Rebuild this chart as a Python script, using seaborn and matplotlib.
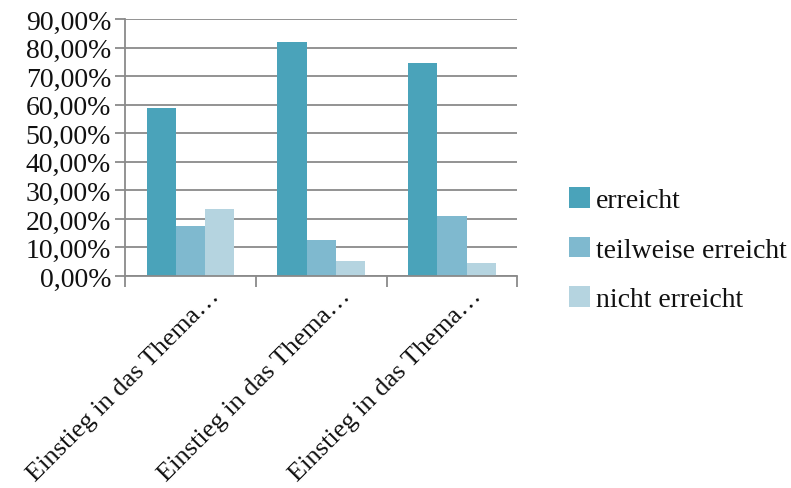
import numpy as np
import pandas as pd
import matplotlib
matplotlib.use("Agg")
import matplotlib.pyplot as plt
import matplotlib.transforms as mtransforms
import seaborn as sns
from matplotlib.ticker import FuncFormatter

categories = ["Einstieg in das Thema…", "Einstieg in das Thema… ", "Einstieg in das Thema…  "]
series = ["erreicht", "teilweise erreicht", "nicht erreicht"]
erreicht = [58.8, 81.8, 74.5]
teilweise = [17.6, 12.7, 21.0]
nicht = [23.3, 5.3, 4.5]
colors = ["#4aa3ba", "#7fb9cf", "#b5d4e0"]

df = pd.DataFrame({
    "kategorie": categories * 3,
    "serie": [s for s in series for _ in categories],
    "wert": erreicht + teilweise + nicht,
})

sns.set_style("white")
plt.rcParams["font.family"] = ["Liberation Serif", "DejaVu Serif"]
plt.rcParams["text.color"] = "#111111"

fig = plt.figure(figsize=(7.91, 4.89), dpi=100)
ax = fig.add_axes([0.158, 0.4335, 0.496, 0.5255])

sns.barplot(data=df, x="kategorie", y="wert", hue="serie", hue_order=series,
            palette=colors, width=0.67, saturation=1, ax=ax, legend=True,
            edgecolor="none")

ax.set_ylim(0, 90)
ax.set_xlim(-0.5, 2.5)
ax.set_yticks(np.arange(0, 91, 10))
ax.yaxis.set_major_formatter(FuncFormatter(lambda v, p: f"{v:.2f}%".replace(".", ",")))
ax.grid(axis="y", color="#8a8a8a", linewidth=1.3)
ax.set_axisbelow(True)
for s in ["top", "right"]:
    ax.spines[s].set_visible(False)
for s in ["left", "bottom"]:
    ax.spines[s].set_color("#8a8a8a")
    ax.spines[s].set_linewidth(1.3)

ax.tick_params(axis="y", left=True, length=7, width=1.3, color="#8a8a8a",
               labelsize=20, pad=3, labelcolor="#111111")
ax.set_xticks([0, 1, 2])
ax.set_xticklabels([c.strip() for c in categories], rotation=45, ha="right",
                   va="top", rotation_mode="anchor", fontsize=19, color="#111111")
ax.tick_params(axis="x", which="major", bottom=False, length=0, pad=6)
ax.set_xticks([-0.5, 0.5, 1.5, 2.5], minor=True)
ax.tick_params(axis="x", which="minor", bottom=True, length=8, width=1.3, color="#8a8a8a")
shift = mtransforms.ScaledTranslation(18 / 100, 0, fig.dpi_scale_trans)
for lbl in ax.get_xticklabels():
    lbl.set_transform(lbl.get_transform() + shift)
ax.set_xlabel("")
ax.set_ylabel("")

handles, labels = ax.get_legend_handles_labels()
ax.legend_.remove()
fig.legend(handles, labels, loc="center left", bbox_to_anchor=(0.688, 0.487),
           frameon=False, fontsize=20, handlelength=0.75, handleheight=0.75,
           handletextpad=0.2, labelspacing=0.85)

fig.savefig("out.png", dpi=100)
